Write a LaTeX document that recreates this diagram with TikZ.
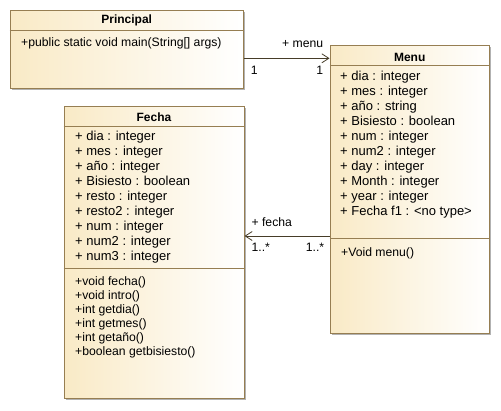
\documentclass[tikz,border=0pt]{standalone}
\usepackage{fontspec}
\setmainfont{Liberation Sans}
\usetikzlibrary{arrows.meta,positioning,shadows}

\definecolor{classcream}{RGB}{249,234,198}
\definecolor{classborder}{RGB}{150,126,82}
\definecolor{assocline}{RGB}{70,60,40}

\tikzset{
  classbox/.style={rectangle, draw=classborder, line width=1pt, inner sep=0pt,
    left color=classcream, right color=white,
    drop shadow={shadow xshift=1.5pt, shadow yshift=-1.5pt, fill=black, opacity=0.3}},
  classline/.style={draw=classborder, line width=0.8pt},
  classtitle/.style={anchor=base, inner sep=0pt, font=\bfseries\fontsize{12}{14}\selectfont},
  attrline/.style={anchor=base west, inner sep=0pt, font=\fontsize{13}{15}\selectfont},
  methline/.style={anchor=base west, inner sep=0pt, font=\fontsize{12.2}{14}\selectfont},
  multlabel/.style={inner sep=0pt, font=\fontsize{12.2}{14}\selectfont},
  assoc/.style={draw=assocline, line width=0.8pt, -{Straight Barb[length=7pt,width=9pt]}}
}

\begin{document}
\begin{tikzpicture}[x=1pt, y=-1pt]

    \useasboundingbox (0,0) rectangle (501,410);

    % Define class boxes
    \node (principal) [classbox, minimum width=233.3pt, minimum height=77.6pt] at (126.7,49.5) {};
    \node (menu) [classbox, minimum width=159.3pt, minimum height=287.6pt] at (409.7,189.5) {};
    \node (fecha) [classbox, minimum width=180pt, minimum height=291.6pt] at (154,252.5) {};

    % Header and divider lines
    \draw[classline] ([yshift=-20pt]principal.north west) -- ([yshift=-20pt]principal.north east);
    \draw[classline] ([yshift=-20.3pt]menu.north west) -- ([yshift=-20.3pt]menu.north east);
    \draw[classline] ([yshift=-193.6pt]menu.north west) -- ([yshift=-193.6pt]menu.north east);
    \draw[classline] ([yshift=-20pt]fecha.north west) -- ([yshift=-20pt]fecha.north east);
    \draw[classline] ([yshift=-162.3pt]fecha.north west) -- ([yshift=-162.3pt]fecha.north east);

    % Titles
    \node (principaltitle) [classtitle] at (126.7,23.5) {Principal};
    \node (menutitle) [classtitle] at (409.7,61.5) {Menu};
    \node (fechatitle) [classtitle] at (154,121) {Fecha};

    % Principal
    \node (principalmeth) [methline] at (21,46.5) {+public static void main(String[] args)};

    % Menu
    \foreach \txt [count=\i from 0] in {+ dia : integer, + mes : integer, + año : string,
        + Bisiesto : boolean, + num : integer, + num2 : integer, + day : integer,
        + Month : integer, + year : integer, + Fecha f1 : <no type>}
      \node (menuattr\i) [attrline] at (340,{80+15*\i}) {\txt};
    \node (menumeth) [methline] at (341,256) {+Void menu()};

    % Fecha
    \foreach \txt [count=\i from 0] in {+ dia : integer, + mes : integer, + año : integer,
        + Bisiesto : boolean, + resto : integer, + resto2 : integer, + num : integer,
        + num2 : integer, + num3 : integer}
      \node (fechaattr\i) [attrline] at (75,{140.5+15*\i}) {\txt};
    \foreach \txt [count=\i from 0] in {+void fecha(), +void intro(), +int getdia(),
        +int getmes(), +int getaño(), +boolean getbisiesto()}
      \node (fechameth\i) [methline] at (75,{285+14*\i}) {\txt};

    % Draw associations
    \draw[assoc] ([yshift=-8.8pt]principal.east) -- ([yshift=-8.8pt]principal.east -| menu.west)
      node (menumultA) [multlabel, at start, anchor=base west, xshift=6.7pt, yshift=-15.7pt] {1}
      node (menumultB) [multlabel, at end, anchor=base east, xshift=-6pt, yshift=-15.7pt] {1}
      node (menurole) [multlabel, at end, anchor=base east, xshift=-6pt, yshift=11.3pt] {+ menu};
    \draw[assoc] ([yshift=-46.5pt]menu.west) -- ([yshift=-46.5pt]menu.west -| fecha.east)
      node (fechamultA) [multlabel, at start, anchor=base east, xshift=-5pt, yshift=-15.7pt] {1..*}
      node (fechamultB) [multlabel, at end, anchor=base west, xshift=6.7pt, yshift=-15.7pt] {1..*}
      node (fecharole) [multlabel, at end, anchor=base west, xshift=6.7pt, yshift=10pt] {+ fecha};

\end{tikzpicture}
\end{document}
